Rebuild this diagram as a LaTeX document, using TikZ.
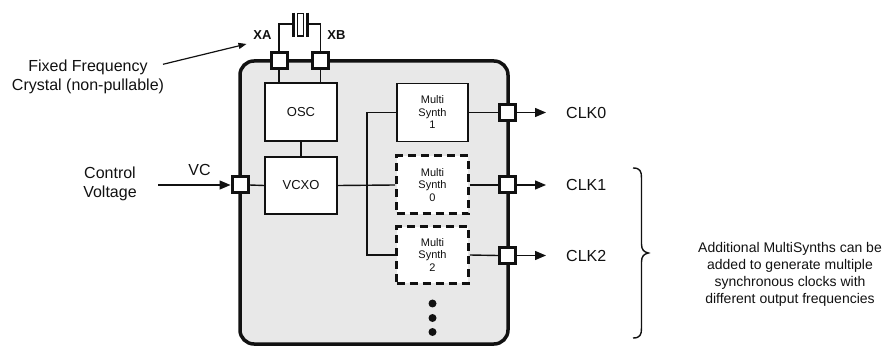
\documentclass[tikz,border=0pt]{standalone}
\usepackage{fontspec}
\setmainfont{Liberation Sans}
\usetikzlibrary{arrows.meta}
\definecolor{chipfill}{HTML}{E8E8E8}
\definecolor{ink}{HTML}{111111}
\tikzset{
  pinbox/.style={draw=ink, line width=3pt, fill=white, minimum size=16pt, inner sep=0pt},
  blk/.style={draw=ink, line width=1.8pt, fill=white, inner sep=0pt, align=center, text=ink,
              minimum width=72pt, font=\fontsize{13}{15}\selectfont},
  ms/.style={blk, minimum width=71.6pt, font=\fontsize{11}{12.5}\selectfont},
  msd/.style={ms, line width=3pt, dash pattern=on 8pt off 5pt},
  wire/.style={draw=ink, line width=1.4pt},
  lbl/.style={font=\fontsize{16}{18.5}\selectfont, align=center, inner sep=0pt, text=ink},
  outarrow/.style={wire, -{Triangle[length=11pt,width=9pt]}},
  dotc/.style={circle, fill=ink, inner sep=0pt, minimum size=8pt},
}
\begin{document}
\begin{tikzpicture}[x=1pt, y=-1pt]
\useasboundingbox (0,0) rectangle (894,347);

% chip body
\node[draw=ink, line width=3.5pt, rounded corners=14pt, fill=chipfill,
      minimum width=268pt, minimum height=283pt, inner sep=0pt] (chip) at (374,202.5) {};

% crystal
\coordinate (pl1) at (293.3,24);
\coordinate (pl2) at (307.7,24);
\draw[ink, line width=3.3pt] (293.3,12.7) -- (293.3,36.7);
\draw[ink, line width=3.3pt] (307.7,12.7) -- (307.7,36.7);
\node[draw=ink, line width=1.3pt, fill=white, minimum width=6pt, minimum height=22.7pt, inner sep=0pt] (xtal) at (300.5,24.6) {};

% blocks
\node[blk, minimum height=58pt] (osc) at (301,112) {OSC};
\node[blk, minimum height=57pt] (vcxo) at (301,185.5) {VCXO};
\node[ms, minimum height=58pt] (ms1) at (432.5,112.5) {Multi\\Synth\\1};
\node[msd, minimum height=58pt] (ms0) at (432.5,185) {Multi\\Synth\\0};
\node[msd, minimum height=56.6pt] (ms2) at (432.5,255) {Multi\\Synth\\2};

% dots
\node[dotc] (d1) at (432.5,303.5) {};
\node[dotc] (d2) at (432.5,318) {};
\node[dotc] (d3) at (432.5,332) {};

% wires (drawn before pins so pins overlay)
\draw[wire] (pl1) -| (279,61);
\draw[wire] (pl2) -| (320.5,61);
\draw[wire] (279,61) -- (279,83);
\draw[wire] (320.5,61) -- (320.5,83);
\draw[wire] (osc.south) -- (vcxo.north);
\coordinate (bus) at (367,185);
\draw[wire] (vcxo.east) -- (ms0.west);
\draw[wire] (ms1.west) -| (bus) |- (ms2.west);

% pins
\node[pinbox] (xa) at (279,61) {};
\node[pinbox] (xb) at (320.5,61) {};
\node[pinbox] (vc) at (240,185) {};
\node[pinbox] (c0) at (507.5,112.5) {};
\node[pinbox] (c1) at (507.5,185) {};
\node[pinbox] (c2) at (507.5,255.5) {};

\draw[wire] (vc.east) -- (vcxo.west);
\draw[wire] (ms1.east) -- (c0.west);
\draw[wire] (ms0.east) -- (c1.west);
\draw[wire] (ms2.east) -- (c2.west);

% outputs
\coordinate (o0) at (546,112.5);
\coordinate (o1) at (546,185);
\coordinate (o2) at (546,255.5);
\draw[outarrow] (c0.east) -- (o0);
\draw[outarrow] (c1.east) -- (o1);
\draw[outarrow] (c2.east) -- (o2);
\node[lbl, anchor=west] (l0) at (566,112.5) {CLK0};
\node[lbl, anchor=west] (l1) at (566,185) {CLK1};
\node[lbl, anchor=west] (l2) at (566,255.5) {CLK2};

% pin labels
\node[lbl, font=\bfseries\fontsize{13}{15}\selectfont] (xal) at (262.5,35) {XA};
\node[lbl, font=\bfseries\fontsize{13}{15}\selectfont] (xbl) at (336.5,35) {XB};
\node[lbl] (vcl) at (199.5,170) {VC};

% control voltage
\node[lbl] (cv) at (110,184) {Control\\Voltage};
\coordinate (cvs) at (158,185);
\draw[wire, -{Triangle[length=11pt,width=9pt]}] (cvs) -- (vc.west);

% crystal note
\node[lbl] (ff) at (88,77) {Fixed Frequency\\Crystal (non-pullable)};
\coordinate (ffs) at (163,64.3);
\coordinate (ffe) at (246.5,44);
\draw[wire, line width=1.2pt, -{Triangle[length=8pt,width=6pt]}] (ffs) -- (ffe);

% brace
\draw[ink, line width=1.4pt] (633,168) .. controls (640,168) and (641.5,171) .. (641.5,178)
  -- (641.5,244) .. controls (641.5,250) and (644,252) .. (648.5,253)
  .. controls (644,254) and (641.5,256) .. (641.5,262)
  -- (641.5,328) .. controls (641.5,335) and (640,338) .. (633,338);

\node[lbl, font=\fontsize{14}{17}\selectfont] (note) at (790,274)
  {Additional MultiSynths can be\\added to generate multiple\\synchronous clocks with\\different output frequencies};
\end{tikzpicture}
\end{document}
